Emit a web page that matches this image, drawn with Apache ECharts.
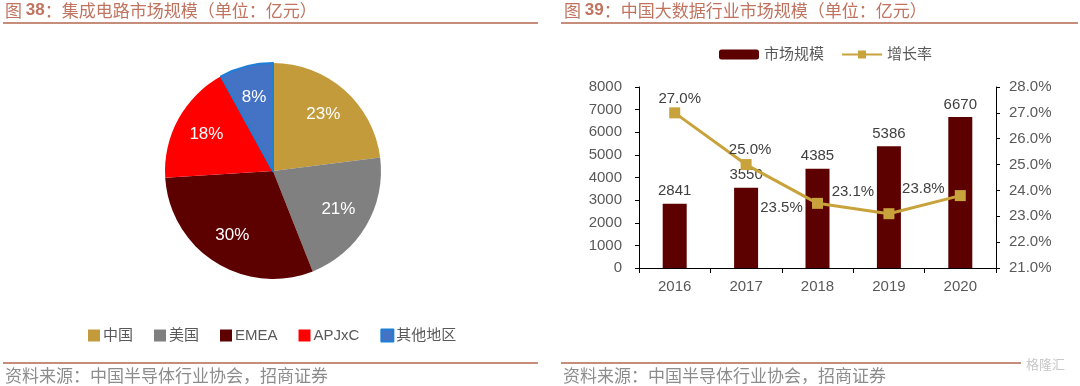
<!DOCTYPE html>
<html>
<head>
<meta charset="utf-8">
<script src="https://cdn.jsdelivr.net/npm/echarts@6/dist/echarts.min.js"></script>
<style>
html,body{margin:0;padding:0;background:#fff;}
#c{width:1080px;height:386px;}
</style>
</head>
<body>
<div id="c"></div>
<script>
// ---- data ----
const pieNames = ['中国', '美国', 'EMEA', 'APJxC', '其他地区'];
const pieValues = [23, 21, 30, 18, 8];
const years = ['2016', '2017', '2018', '2019', '2020'];
const marketSize = [2841, 3550, 4385, 5386, 6670];
const growthRate = [27.0, 25.0, 23.5, 23.1, 23.8];
const leftTitle = ['图 ', '38', '：集成电路市场规模（单位：亿元）'];
const rightTitle = ['图 ', '39', '：中国大数据行业市场规模（单位：亿元）'];
const sourceText = '资料来源：中国半导体行业协会，招商证券';

// ---- styles ----
const FONT = 'Liberation Sans, Arial, Noto Sans CJK SC, sans-serif';
const pieColors = ['#C39B3A', '#808080', '#5C0000', '#FF0000', '#4472C4'];
const accent = '#C0735F';
const lineAccent = '#C58D7A';
const lineLabelOffsets = [[5, -14], [4, -15], [-36, 5], [-36, -22], [-37, -7]];

const chart = echarts.init(document.getElementById('c'));

function titleText(parts) {
  return '{a|' + parts[0] + '}{b|' + parts[1] + '}{a|' + parts[2] + '}';
}
const titleRich = {
  a: { fontSize: 17, fill: accent, fontFamily: 'Noto Sans CJK SC, sans-serif' },
  b: { fontSize: 17, fill: accent, fontWeight: 'bold', fontFamily: 'Liberation Sans, Arial, sans-serif' }
};

const option = {
  animation: false,
  backgroundColor: '#fff',
  color: pieColors,
  graphic: [
    { type: 'text', left: 5, top: 2, style: { text: titleText(leftTitle), rich: titleRich, fill: accent } },
    { type: 'text', left: 564, top: 2, style: { text: titleText(rightTitle), rich: titleRich, fill: accent } },
    { type: 'rect', shape: { x: 3, y: 22, width: 535, height: 2 }, style: { fill: lineAccent } },
    { type: 'rect', shape: { x: 561, y: 22, width: 517, height: 2 }, style: { fill: lineAccent } },
    { type: 'rect', shape: { x: 3, y: 362, width: 535, height: 2 }, style: { fill: lineAccent } },
    { type: 'rect', shape: { x: 561, y: 362, width: 460, height: 2 }, style: { fill: lineAccent } },
    { type: 'text', left: 5, top: 367, style: { text: sourceText, fontSize: 17, fill: '#8C8C8C', fontFamily: 'Noto Sans CJK SC, sans-serif' } },
    { type: 'text', left: 563, top: 367, style: { text: sourceText, fontSize: 17, fill: '#8C8C8C', fontFamily: 'Noto Sans CJK SC, sans-serif' } },
    { type: 'text', left: 1026, top: 358, style: { text: '格隆汇', fontSize: 13, fill: '#C8C8C8', fontFamily: 'Noto Sans CJK SC, sans-serif' } }
  ],
  legend: [
    {
      data: pieNames,
      left: 83, top: 323,
      itemWidth: 12, itemHeight: 12, itemGap: 21,
      icon: 'rect',
      selectedMode: false,
      textStyle: { fontSize: 15, color: '#595959', fontFamily: FONT, padding: [0, 0, 0, -2] }
    },
    {
      data: ['市场规模', '增长率'],
      left: 714, top: 42,
      itemWidth: 40, itemHeight: 10, itemGap: 17,
      selectedMode: false,
      textStyle: { fontSize: 15, color: '#595959', fontFamily: FONT }
    }
  ],
  grid: { left: 639, right: 84, top: 87, bottom: 118 },
  xAxis: {
    type: 'category',
    data: years,
    axisLine: { lineStyle: { color: '#000', width: 1 } },
    axisTick: { show: true, length: 5, lineStyle: { color: '#000' } },
    axisLabel: { color: '#595959', fontSize: 15, fontFamily: FONT, margin: 11 }
  },
  yAxis: [
    {
      type: 'value', min: 0, max: 8000, interval: 1000,
      axisLine: { show: true, lineStyle: { color: '#000' } },
      axisTick: { show: true, length: 4, lineStyle: { color: '#000' } },
      splitLine: { show: false },
      axisLabel: { color: '#595959', fontSize: 15, fontFamily: FONT, margin: 17,
        formatter: v => String(v) }
    },
    {
      type: 'value', min: 21, max: 28, interval: 1,
      axisLine: { show: true, lineStyle: { color: '#000' } },
      axisTick: { show: true, length: 4, lineStyle: { color: '#000' } },
      splitLine: { show: false },
      axisLabel: { color: '#595959', fontSize: 15, fontFamily: FONT, margin: 13,
        formatter: v => v.toFixed(1) + '%' }
    }
  ],
  series: [
    {
      type: 'pie',
      name: 'pie',
      center: [273, 171],
      radius: 108,
      startAngle: 90,
      clockwise: true,
      avoidLabelOverlap: false,
      silent: true,
      label: { show: false },
      labelLine: { show: false },
      data: pieNames.map((n, i) => ({
        name: n, value: pieValues[i],
        itemStyle: i === 4 ? { color: pieColors[i], borderColor: '#1F7FD6', borderWidth: 2 } : { color: pieColors[i] }
      }))
    },
    {
      type: 'pie',
      name: 'pieLabels',
      center: [273, 171],
      radius: [38, 108],
      startAngle: 90,
      clockwise: true,
      avoidLabelOverlap: false,
      silent: true,
      itemStyle: { color: 'rgba(0,0,0,0)' },
      label: { show: true, position: 'inside', color: '#fff', fontSize: 17, fontFamily: FONT,
        formatter: p => p.value + '%' },
      labelLine: { show: false },
      data: pieNames.map((n, i) => ({ name: n, value: pieValues[i] }))
    },
    {
      type: 'bar',
      name: '市场规模',
      data: marketSize,
      barWidth: 24,
      itemStyle: { color: '#5C0000' },
      label: { show: true, position: 'top', distance: 5, color: '#404040', fontSize: 15, fontFamily: FONT }
    },
    {
      type: 'line',
      name: '增长率',
      yAxisIndex: 1,
      data: growthRate.map((v, i) => ({
        value: v,
        label: { show: true, position: 'inside', offset: lineLabelOffsets[i] }
      })),
      symbol: 'rect',
      symbolSize: 11,
      color: '#C8A23A',
      lineStyle: { color: '#C8A23A', width: 3 },
      itemStyle: { color: '#C8A23A' },
      label: { show: true, color: '#404040', fontSize: 15, fontFamily: FONT,
        formatter: p => p.value.toFixed(1) + '%' },
      z: 5
    }
  ]
};
chart.setOption(option);
</script>
</body>
</html>
